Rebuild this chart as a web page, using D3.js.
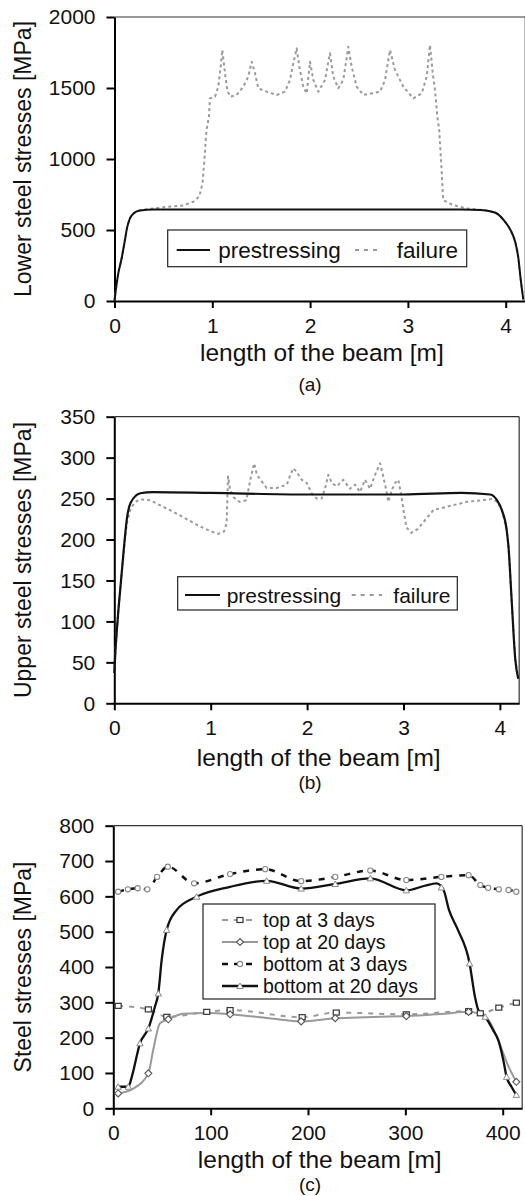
<!DOCTYPE html>
<html><head><meta charset="utf-8">
<script src="https://cdn.jsdelivr.net/npm/d3@7"></script>
<style>
body{margin:0;background:#fff;}
svg text{font-family:"Liberation Sans",Arial,sans-serif;fill:#111;}
</style></head>
<body>
<svg id="c" width="525" height="1196"></svg>
<script>
// ---------- Panel (a) data ----------
const aTicksX = [0,1,2,3,4];
const aTicksY = [0,500,1000,1500,2000];
const aPreX = [0,0.01,0.04,0.07,0.107,0.13,0.16,0.2,0.26,0.4,1.0,2.0,3.0,3.55,3.74,3.85,3.92,3.98,4.03,4.07,4.1,4.13,4.15,4.18];
const aPreY = [0,60,200,290,430,520,585,620,638,645,645,645,645,644,640,630,612,570,523,470,408,300,171,10];
const aFailX = [0,0.01,0.04,0.07,0.107,0.13,0.16,0.2,0.26,0.4,0.53,0.7,0.806,0.84,0.867,0.9,0.92,0.94,0.966,0.976,1.028,1.061,1.086,1.102,1.13,1.153,1.181,1.249,1.317,1.368,1.403,1.437,1.47,1.556,1.658,1.743,1.794,1.828,1.863,1.89,1.93,1.965,1.999,2.033,2.084,2.152,2.203,2.237,2.288,2.339,2.391,2.425,2.476,2.544,2.715,2.766,2.817,2.868,2.953,3.055,3.141,3.192,3.226,3.254,3.277,3.301,3.32,3.345,3.36,3.46,3.6,3.74,3.85,3.92,3.98,4.03,4.07,4.1,4.13,4.15,4.18];
const aFailY = [0,60,200,290,430,520,585,620,640,652,662,672,699,720,735,830,1000,1200,1300,1427,1439,1509,1650,1768,1603,1486,1439,1451,1509,1580,1685,1604,1498,1474,1451,1474,1556,1674,1779,1650,1509,1462,1685,1556,1474,1556,1744,1580,1498,1556,1791,1650,1509,1451,1474,1556,1768,1627,1509,1427,1462,1580,1803,1603,1486,1298,1204,922,711,676,652,642,630,612,570,523,470,408,300,171,10];

// ---------- Panel (b) data ----------
const bTicksX = [0,1,2,3,4];
const bTicksY = [0,50,100,150,200,250,300,350];
const bPreX = [0,0.01,0.04,0.07,0.1,0.13,0.17,0.27,0.4,1.0,2.0,3.0,3.6,3.9,3.97,4.02,4.07,4.09,4.12,4.16,4.19];
const bPreY = [37,60,110,150,190,225,245,256.5,258,257,255,255,257,255,248,236,212,190,130,53,30];
const bFailX = [0,0.01,0.04,0.07,0.1,0.13,0.17,0.22,0.27,0.37,0.61,0.89,1.0,1.08,1.14,1.165,1.18,1.2,1.235,1.27,1.3,1.37,1.415,1.45,1.48,1.53,1.58,1.685,1.79,1.82,1.857,1.89,1.944,1.996,2.05,2.1,2.15,2.186,2.22,2.256,2.308,2.375,2.445,2.497,2.549,2.6,2.653,2.705,2.757,2.79,2.818,2.843,2.877,2.912,2.946,2.98,3.0,3.03,3.08,3.15,3.31,3.656,3.93,3.97,4.02,4.07,4.09,4.12,4.16,4.19];
const bFailY = [37,60,110,150,188,220,238,246,249,248,234,216,210,207,210,220,277,262,252,248,246,248,275,293,279,271,263,263,267,277,287,283,273,269,256,250,250,262,279,269,265,273,262,267,258,273,262,279,293,277,262,246,260,269,273,252,236,215,208,213,236,246,249.5,246,236,212,190,130,53,30];

// ---------- Panel (c) data ----------
const cTicksX = [0,100,200,300,400];
const cTicksY = [0,100,200,300,400,500,600,700,800];
const top3X = [5,36,55,96,120,194,229,301,365,377,396,414];
const top3Y = [290,280,259,273,278,258,271,266,275,269,285,299];
const top20X = [5,20,36,41,48,56.5,72,100,120,160,193,228,260,301,340,365,384,396,406,414];
const top20Y = [42,55,99,165,241,252,268,270,266,255,246,255,258,261,268,273,255,188,118,75];
const top20MX = [5,36,56.5,120,193,228,301,365,414];
const top20MY = [42,99,252,266,246,255,261,273,75];
const bot3X = [5,15,25,35,45,56,83,120,156,193,228,264,301,337,365,377,385,396,406,414];
const bot3Y = [613,620,623,620,655,684,637,663,677,643,655,673,646,655,660,632,624,620,618,613];
const bot20X = [3.5,15.4,19,27.4,36,42.8,46.2,49.7,54.8,65,85.6,120,157.6,193,228,264,301,320,332,339,345,354,366,371.5,375,382,390,395.5,400.6,404,409,414];
const bot20Y = [61,61,89,184,226,288,325,420,505,561,599,627,644,622,635,651,617,630,637,620,560,505,410,316,278,259,222,193,137,89,61,38];
const bot20MX = [5,15.4,27.4,36,46.2,54.8,85.6,157.6,193,228,264,301,337,366,382,404,414];
const bot20MY = [61,61,184,226,325,505,599,644,622,635,651,617,625,410,259,89,38];
const cLegend = ["top at 3 days","top at 20 days","bottom at 3 days","bottom at 20 days"];

const svg = d3.select("#c");
const FONT = '"Liberation Sans",Arial,sans-serif';

function panel(o){
  const x = d3.scaleLinear().domain([0,o.xmax]).range([o.x0, o.x0 + o.xmax*o.kx]);
  const y = d3.scaleLinear().domain([0,o.ymax]).range([o.yb, o.yt]);
  const g = svg.append("g");
  g.append("line").attr("x1",x(0)).attr("x2",x(o.xmax)).attr("y1",y(o.ymax)).attr("y2",y(o.ymax)).attr("stroke","#333").attr("stroke-width",1.2);
  g.append("line").attr("x1",x(o.xmax)).attr("x2",x(o.xmax)).attr("y1",y(o.ymax)).attr("y2",y(0)).attr("stroke","#333").attr("stroke-width",1.2);
  const ax = g.append("g").attr("transform",`translate(0,${o.yb})`)
    .call(d3.axisBottom(x).tickValues(o.tx).tickSize(7).tickSizeOuter(0).tickPadding(10).tickFormat(d3.format("d")));
  const ay = g.append("g").attr("transform",`translate(${o.x0},0)`)
    .call(d3.axisLeft(y).tickValues(o.ty).tickSize(8).tickSizeOuter(0).tickPadding(11).tickFormat(d3.format("d")));
  [ax,ay].forEach(a=>{
    a.select(".domain").attr("stroke","#000").attr("stroke-width",2);
    a.selectAll(".tick line").attr("stroke","#000").attr("stroke-width",2);
    a.selectAll(".tick text").attr("font-size",21).attr("font-family",FONT).attr("fill","#111");
  });
  g.append("text").attr("x",(o.x0 + x(o.xmax))/2 + 2).attr("y",o.xtY).attr("text-anchor","middle")
    .attr("font-size",24.5).text("length of the beam [m]");
  g.append("text").attr("transform",`translate(31,${(o.yb+o.yt)/2}) rotate(-90)`).attr("text-anchor","middle")
    .attr("font-size",23).text(o.ytitle);
  g.append("text").attr("x",310).attr("y",o.capY).attr("text-anchor","middle").attr("font-size",19).text(o.cap);
  return {x,y,g};
}

function drawLine(p, xs, ys, style, curve){
  const pts = xs.map((d,i)=>[d,ys[i]]);
  p.g.append("path").datum(pts)
    .attr("d", d3.line().x(d=>p.x(d[0])).y(d=>p.y(d[1])).curve(curve||d3.curveMonotoneX))
    .attr("fill","none").attr("stroke",style.c).attr("stroke-width",style.w)
    .attr("stroke-dasharray",style.dash||null).attr("stroke-linejoin","round");
}

// ---------- Panel (a) ----------
const pa = panel({x0:114.5,kx:97.8,xmax:4.2,yb:301,yt:17,ymax:2000,tx:aTicksX,ty:aTicksY,xtY:361,capY:391,cap:"(a)",ytitle:"Lower steel stresses [MPa]"});
drawLine(pa,aFailX,aFailY,{c:"#9a9a9a",w:2,dash:"3,3"},d3.curveLinear);
drawLine(pa,aPreX,aPreY,{c:"#111",w:2},d3.curveMonotoneX);
function legend2(g, bx, by, bw, bh, ly, s1, t1x, s2, t2x, fs, ty){
  g.append("rect").attr("x",bx).attr("y",by).attr("width",bw).attr("height",bh).attr("fill","#fff").attr("stroke","#222").attr("stroke-width",1.2);
  g.append("line").attr("x1",s1[0]).attr("x2",s1[1]).attr("y1",ly).attr("y2",ly).attr("stroke","#111").attr("stroke-width",2);
  g.append("text").attr("x",t1x).attr("y",ty).attr("font-size",fs).text("prestressing");
  g.append("line").attr("x1",s2[0]).attr("x2",s2[1]).attr("y1",ly).attr("y2",ly).attr("stroke","#9a9a9a").attr("stroke-width",2).attr("stroke-dasharray","4,5");
  g.append("text").attr("x",t2x).attr("y",ty).attr("font-size",fs).text("failure");
}
legend2(pa.g,167.7,230,299,36.7,250,[176.7,210],218.3,[355,382],396.7,22.5,257.5);

// ---------- Panel (b) ----------
const pb = panel({x0:114.3,kx:96.4,xmax:4.2,yb:703.3,yt:416.7,ymax:350,tx:bTicksX,ty:bTicksY,xtY:766,capY:789,cap:"(b)",ytitle:"Upper steel stresses [MPa]"});
drawLine(pb,bFailX,bFailY,{c:"#9a9a9a",w:2,dash:"3,3"},d3.curveLinear);
drawLine(pb,bPreX,bPreY,{c:"#111",w:2.2},d3.curveMonotoneX);
legend2(pb.g,177.7,576.7,279.6,33.3,595,[185,220],226.7,[351.7,382],393.3,21,602.5);

// ---------- Panel (c) ----------
const pc = panel({x0:113.3,kx:0.9735,xmax:420,yb:1108.3,yt:825.7,ymax:800,tx:cTicksX,ty:cTicksY,xtY:1168,capY:1191,cap:"(c)",ytitle:"Steel stresses [MPa]"});
const sTop3 = {c:"#9a9a9a",w:2,dash:"5,6"};
const sTop20 = {c:"#999",w:2};
const sBot3 = {c:"#111",w:2.5,dash:"6,7"};
const sBot20 = {c:"#111",w:2.3};
drawLine(pc,top3X,top3Y,sTop3);
drawLine(pc,top20X,top20Y,sTop20);
drawLine(pc,bot3X,bot3Y,sBot3);
drawLine(pc,bot20X,bot20Y,sBot20);

function marker(g, type, cx, cy){
  const s = 3;
  if(type==="square") g.append("rect").attr("x",cx-s).attr("y",cy-s+0.5).attr("width",2*s).attr("height",2*s-1).attr("fill","#fff").attr("stroke","#333").attr("stroke-width",1.2);
  else if(type==="diamond") g.append("path").attr("d",`M${cx},${cy-3.5}L${cx+3.5},${cy}L${cx},${cy+3.5}L${cx-3.5},${cy}Z`).attr("fill","#fff").attr("stroke","#555").attr("stroke-width",1.1);
  else if(type==="circle") g.append("circle").attr("cx",cx).attr("cy",cy).attr("r",2.6).attr("fill","#fff").attr("stroke","#888").attr("stroke-width",1.1);
  else g.append("path").attr("d",`M${cx},${cy-3}L${cx+3.2},${cy+2.5}L${cx-3.2},${cy+2.5}Z`).attr("fill","#fff").attr("stroke","#888").attr("stroke-width",1);
}
top3X.forEach((d,i)=>marker(pc.g,"square",pc.x(d),pc.y(top3Y[i])));
top20MX.forEach((d,i)=>marker(pc.g,"diamond",pc.x(d),pc.y(top20MY[i])));
bot3X.forEach((d,i)=>marker(pc.g,"circle",pc.x(d),pc.y(bot3Y[i])));
bot20MX.forEach((d,i)=>marker(pc.g,"triangle",pc.x(d),pc.y(bot20MY[i])));

const lg = pc.g.append("g");
lg.append("rect").attr("x",203).attr("y",904).attr("width",232).attr("height",95).attr("fill","#fff").attr("stroke","#222").attr("stroke-width",1.2);
const lStyles = [sTop3,sTop20,sBot3,sBot20];
const lMarks = ["square","diamond","circle","triangle"];
const lBase = [927,949,971,993];
cLegend.forEach((t,i)=>{
  const cy = lBase[i]-7;
  lg.append("line").attr("x1",222).attr("x2",258).attr("y1",cy).attr("y2",cy).attr("stroke",lStyles[i].c).attr("stroke-width",lStyles[i].w).attr("stroke-dasharray",lStyles[i].dash?"6,6":null);
  marker(lg,lMarks[i],240,cy);
  lg.append("text").attr("x",263).attr("y",lBase[i]).attr("font-size",19.5).text(t);
});
</script>
</body></html>
